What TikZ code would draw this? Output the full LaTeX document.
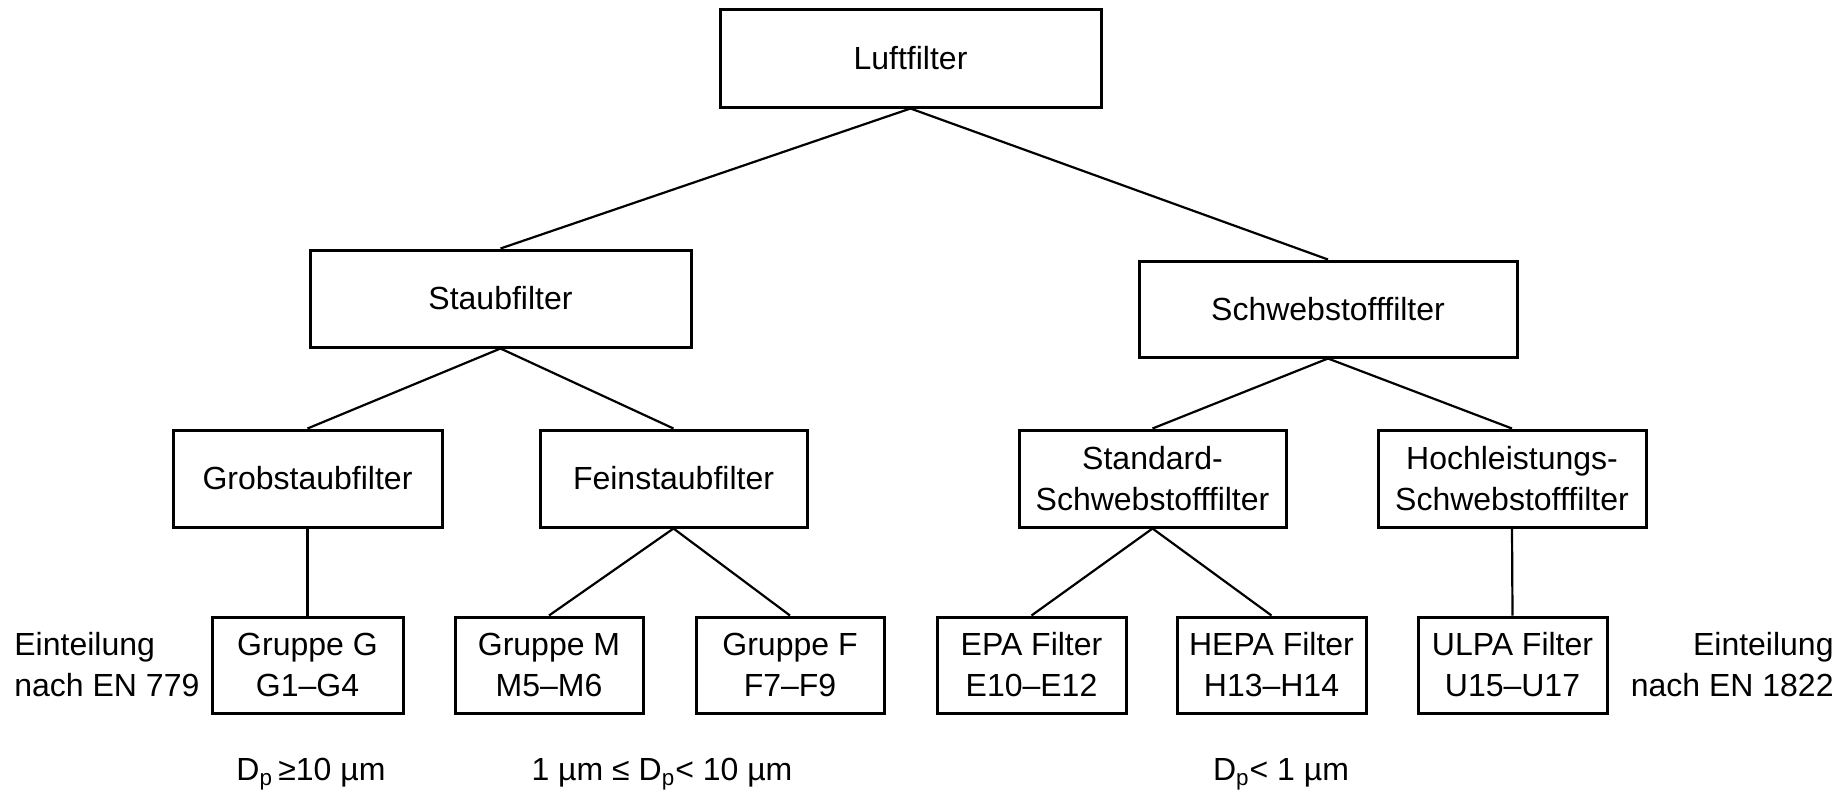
\documentclass[tikz,border=0pt]{standalone}
\usepackage{fontspec}
\setmainfont{Liberation Sans}
\tikzset{
  txt/.style={font=\fontsize{16}{20.5}\selectfont, inner sep=0pt, align=center},
  bx/.style 2 args={draw, line width=1.5pt, txt, minimum width=#1*0.5pt, minimum height=#2*0.5pt},
  conn/.style={line width=1.1pt},
}
\begin{document}
\begin{tikzpicture}[x=0.5pt,y=-0.5pt]
\useasboundingbox (0,0) rectangle (1837,789);
% level 0
\node[bx={381}{98}] (luft) at (910.5,58) {Luftfilter};
% level 1
\node[bx={381}{97}] (staub) at (500.5,298.5) {Staubfilter};
\node[bx={378}{96}] (schweb) at (1328,309) {Schwebstofffilter};
% level 2
\node[bx={269}{97}] (grob) at (307.5,478.5) {Grobstaubfilter};
\node[bx={267}{97}] (fein) at (673.5,478.5) {Feinstaubfilter};
\node[bx={267}{97}] (std) at (1152.5,478.5) {Standard-\\Schwebstofffilter};
\node[bx={268}{97}] (hoch) at (1512,478.5) {Hochleistungs-\\Schwebstofffilter};
% level 3
\node[bx={191}{96}] (gg) at (307.5,665) {Gruppe G\\G1–G4};
\node[bx={188}{96}] (gm) at (549,665) {Gruppe M\\M5–M6};
\node[bx={188}{96}] (gf) at (790,665) {Gruppe F\\F7–F9};
\node[bx={189}{96}] (epa) at (1031.5,665) {EPA Filter\\E10–E12};
\node[bx={189}{96}] (hepa) at (1271.5,665) {HEPA Filter\\H13–H14};
\node[bx={189}{96}] (ulpa) at (1512.5,665) {ULPA Filter\\U15–U17};
% side labels
\node[txt, align=left, anchor=west] (ein1) at (14,665) {Einteilung\\nach EN 779};
\node[txt, align=right, anchor=east] (ein2) at (1834,665) {Einteilung\\nach EN 1822};
% bottom labels
\node[txt, anchor=base] (d1) at (311,780) {D\textsubscript{p}\,≥10 µm};
\node[txt, anchor=base] (d2) at (662,780) {1 µm ≤ D\textsubscript{p}< 10 µm};
\node[txt, anchor=base] (d3) at (1281,780) {D\textsubscript{p}< 1 µm};
% connectors
\draw[conn] (luft.south) -- (staub.north);
\draw[conn] (luft.south) -- (schweb.north);
\draw[conn] (staub.south) -- (grob.north);
\draw[conn] (staub.south) -- (fein.north);
\draw[conn] (schweb.south) -- (std.north);
\draw[conn] (schweb.south) -- (hoch.north);
\draw[conn] (grob.south) -- (gg.north);
\draw[conn] (fein.south) -- (gm.north);
\draw[conn] (fein.south) -- (gf.north);
\draw[conn] (std.south) -- (epa.north);
\draw[conn] (std.south) -- (hepa.north);
\draw[conn] (hoch.south) -- (ulpa.north);
\end{tikzpicture}
\end{document}
